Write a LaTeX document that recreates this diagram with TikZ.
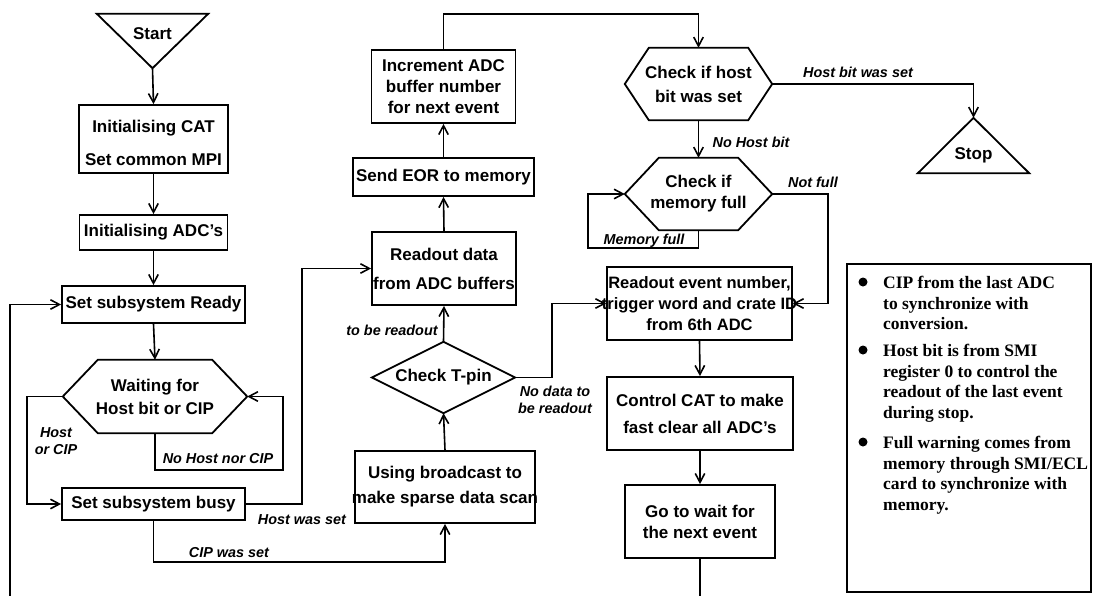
\documentclass[tikz,border=0pt]{standalone}
\usepackage{fontspec}
\setmainfont{Liberation Sans}
\newfontfamily\legserif{Liberation Serif}
\usetikzlibrary{arrows.meta}
\newcommand\bxfont{\fontsize{17}{21}\selectfont\bfseries}
\newcommand\lbfont{\fontsize{14.4}{17}\selectfont\bfseries\itshape}
\newcommand\fitw[2]{\makebox[#1pt][c]{#2}}
\newcommand\drawhex[2]{\draw[shapeline] (#1.west) -- ([xshift=#2]#1.north west) -- ([xshift=-#2]#1.north east) -- (#1.east) -- ([xshift=-#2]#1.south east) -- ([xshift=#2]#1.south west) -- cycle;}
\begin{document}
\begin{tikzpicture}[x=1pt,y=-1pt,
  shapeline/.style={line width=1.8pt, line join=miter},
  box/.style={draw, line width=1.8pt, inner sep=0pt, align=center, font=\bxfont},
  ghost/.style={inner sep=0pt, align=center, font=\bxfont},
  lbl/.style={inner sep=0pt, align=center, font=\lbfont},
  conn/.style={line width=1.6pt},
  arr/.style={conn, -{Straight Barb[length=9pt,width=9.5pt]}},
  legtext/.style={inner sep=0pt, align=left, anchor=north west, font=\legserif\fontsize{17.5}{20.5}\selectfont\bfseries}
]
\useasboundingbox (0,0) rectangle (1093,595);

% ---------- left column ----------
\node[ghost, minimum width=111, minimum height=54] (start) at (152.5,41) {};
\draw[shapeline] (start.north west) -- (start.north east) -- (start.south) -- cycle;
\node[ghost] at (152.5,34) {Start};

\node[box, minimum width=149, minimum height=68] (cat) at (153.5,139) {\rule{0pt}{20.5pt}Initialising CAT\\[12pt]Set common MPI};
\node[box, minimum width=148, minimum height=35] (adc) at (153.5,232.5) {Initialising ADC’s};
\node[box, minimum width=183, minimum height=37] (ready) at (153.5,304.5) {Set subsystem Ready};
\node[ghost, minimum width=184, minimum height=73] (wait) at (155,396.5) {Waiting for\\[2pt]Host bit or CIP};
\drawhex{wait}{35}
\node[box, minimum width=183, minimum height=32] (busy) at (153.5,504) {Set subsystem busy};

% ---------- middle column ----------
\node[box, minimum width=144, minimum height=73] (inc) at (443.5,86.5) {Increment ADC\\buffer number\\for next event};
\node[box, minimum width=181, minimum height=38] (eor) at (443.5,177) {Send EOR to memory};
\node[box, minimum width=144, minimum height=73] (rdata) at (444,268.5) {\fitw{144}{Readout data}\\[8pt]\fitw{144}{from ADC buffers}};
\node[ghost, minimum width=143, minimum height=71] (tpin) at (443.5,377.5) {Check T-pin};
\draw[shapeline] (tpin.west) -- (tpin.north) -- (tpin.east) -- (tpin.south) -- cycle;
\node[box, minimum width=180, minimum height=72] (sparse) at (445,487) {\fitw{180}{Using broadcast to}\\[4pt]\fitw{180}{make sparse data scan}};

% ---------- right column ----------
\node[ghost, minimum width=147, minimum height=72] (host) at (698.5,84) {Check if host\\[3pt]bit was set};
\drawhex{host}{24}
\node[ghost, minimum width=147, minimum height=72] (mem) at (698.5,194) {Check if\\memory full};
\drawhex{mem}{34}
\node[box, minimum width=185, minimum height=73, font=\fontsize{16.5}{21}\selectfont\bfseries] (revt) at (699.5,303.5) {\fitw{185}{Readout event number,}\\\fitw{185}{trigger word and crate ID}\\\fitw{185}{from 6th ADC}};
\node[box, minimum width=186, minimum height=73] (ctrl) at (700,413.5) {Control CAT to make\\[6pt]fast clear all ADC’s};
\node[box, minimum width=150, minimum height=73] (goto) at (700,521.5) {Go to wait for\\the next event};

\node[ghost, minimum width=111, minimum height=55] (stop) at (973.5,145.5) {};
\draw[shapeline] (stop.north) -- (stop.south east) -- (stop.south west) -- cycle;
\node[ghost] at (973.5,155) {Stop};

% ---------- connectors ----------
\draw[arr] (start.south) -- (cat.north);
\draw[arr] (cat.south) -- (adc.north);
\draw[arr] (adc.south) -- (ready.north);
\draw[arr] (ready.south) -- (wait.north);
\draw[arr] (wait.south) |- (283,470) |- (wait.east);
\draw[arr] (wait.west) -| (27,504) -- (busy.west);
\draw[arr] (busy.east) -- (302,504) |- (rdata.west);
\draw[arr] (busy.south) |- (445,562) -- (sparse.south);
\draw[arr] (sparse.north) -- (tpin.south);
\draw[arr] (tpin.north) -- (rdata.south);
\draw[arr] (tpin.east) -- (552,377.5) |- (revt.west);
\draw[arr] (rdata.north) -- (eor.south);
\draw[arr] (eor.north) -- (inc.south);
\draw[arr] (inc.north) |- (698.5,14) -- (host.north);
\draw[arr] (host.east) -| (stop.north);
\draw[arr] (host.south) -- (mem.north);
\draw[arr] (mem.south) |- (588,248) |- (mem.west);
\draw[arr] (mem.east) -- (828,194) |- (revt.east);
\draw[arr] (revt.south) -- (ctrl.north);
\draw[arr] (ctrl.south) -- (goto.north);
\draw[arr] (goto.south) |- (10,596.8) |- (ready.west);

% ---------- connector labels ----------
\node[lbl] at (218,459) {No Host nor CIP};
\node[lbl] at (56,441.5) {Host\\or CIP};
\node[lbl] at (302,520) {Host was set};
\node[lbl] at (229,553) {CIP was set};
\node[lbl] at (392,330) {to be readout};
\node[lbl] at (555,399.5) {No data to\\be readout};
\node[lbl] at (858,72) {Host bit was set};
\node[lbl] at (751,142) {No Host bit};
\node[lbl] at (644,241) {Memory full};
\node[lbl] at (813,182) {Not full};

% ---------- legend ----------
\node[draw, line width=1.4pt, minimum width=244, minimum height=328, inner sep=0pt] (legend) at (969,428) {};
\fill (863,282) circle[radius=4.5pt];
\fill (863,350) circle[radius=4.5pt];
\fill (863,442) circle[radius=4.5pt];
\node[legtext] (lg1) at (883,276) {CIP from the last ADC\\to synchronize with\\conversion.};
\node[legtext] (lg2) at (883,344) {Host bit is from SMI\\register 0 to control the\\readout of the last event\\during stop.};
\node[legtext] (lg3) at (883,436) {Full warning comes from\\memory through SMI/ECL\\card to synchronize with\\memory.};
\end{tikzpicture}
\end{document}
